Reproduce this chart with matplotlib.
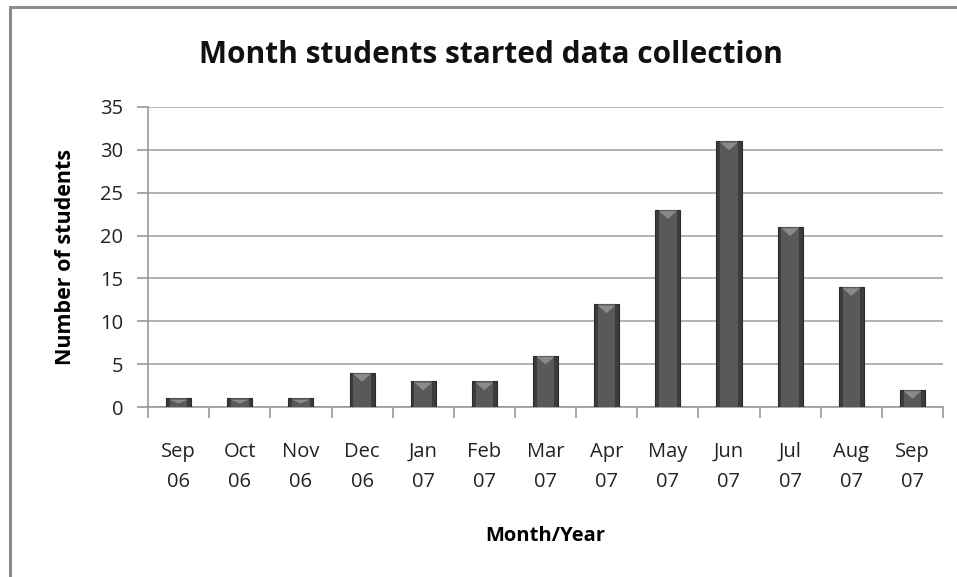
import matplotlib
matplotlib.use('Agg')
import matplotlib.pyplot as plt
from matplotlib.patches import Rectangle
import numpy as np

# data
months = ['Sep\n06', 'Oct\n06', 'Nov\n06', 'Dec\n06', 'Jan\n07', 'Feb\n07', 'Mar\n07',
          'Apr\n07', 'May\n07', 'Jun\n07', 'Jul\n07', 'Aug\n07', 'Sep\n07']
students = [1, 1, 1, 4, 3, 3, 6, 12, 23, 31, 21, 14, 2]
y_ticks = [0, 5, 10, 15, 20, 25, 30, 35]

plt.rcParams['font.family'] = ['Open Sans', 'DejaVu Sans']

fig = plt.figure(figsize=(9.57, 5.77), dpi=100)
ax = fig.add_axes([0.1547, 0.2946, 0.8307, 0.52])

x = np.arange(len(months))
w = 0.41
# bevelled dark bars: base, lighter core, dark edge
ax.bar(x, students, width=w, color='#3c3c3c', edgecolor='#2a2a2a', linewidth=0.8, zorder=3)
ax.bar(x, students, width=w * 0.7, color='#595959', linewidth=0, zorder=4)
# lighter chevron at the top of each bar
for xi, v in zip(x, students):
    h = min(0.9, v * 0.45)
    tri = plt.Polygon([[xi - w * 0.35, v - 0.15], [xi + w * 0.35, v - 0.15], [xi, v - 0.15 - h]],
                      closed=True, color='#8a8a8a', zorder=5, linewidth=0)
    ax.add_patch(tri)

ax.set_xlim(-0.5, len(months) - 0.5)
ax.set_ylim(0, 35)
ax.set_yticks(y_ticks)
ax.yaxis.grid(True, color='#a6a6a6', linewidth=1.2, zorder=0)
ax.set_axisbelow(True)

ax.set_xticks(x)
ax.set_xticklabels(months, fontsize=14.5, color='#222222', linespacing=1.7)
ax.set_xticks(np.arange(len(months) + 1) - 0.5, minor=True)
ax.tick_params(axis='x', which='major', length=0, pad=25)
ax.tick_params(axis='x', which='minor', length=8, color='#999999', width=1.2)
ax.tick_params(axis='y', length=8, color='#999999', width=1.2, labelsize=14.5,
               labelcolor='#222222', pad=10)

for s in ['top', 'right']:
    ax.spines[s].set_visible(False)
for s in ['left', 'bottom']:
    ax.spines[s].set_color('#999999')
    ax.spines[s].set_linewidth(1.2)

fig.text(491 / 957, 1 - 55 / 577, 'Month students started data collection', fontsize=21.5,
         fontweight='bold', color='#111111', ha='center', va='center')
ax.set_xlabel('Month/Year', fontsize=14.5, fontweight='bold', labelpad=24)
ax.set_ylabel('Number of students', fontsize=15.5, fontweight='bold', labelpad=17)

# chart frame (only top and left edges are visible in the crop)
fig.patches.append(Rectangle((10 / 957, -0.1), 1.2, 1 - 7 / 577 + 0.1,
                             transform=fig.transFigure, fill=False,
                             edgecolor='#8c8c8c', linewidth=2.2))

fig.savefig('out.png', dpi=100)
